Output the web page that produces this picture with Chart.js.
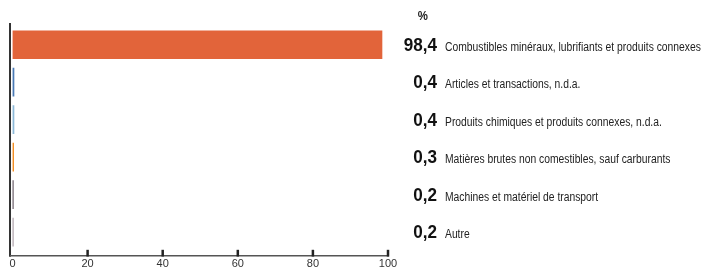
<!DOCTYPE html>
<html>
<head>
<meta charset="utf-8">
<script src="https://cdn.jsdelivr.net/npm/chart.js@4/dist/chart.umd.min.js"></script>
<style>
  html, body { margin: 0; padding: 0; background: #fff; }
  #wrap { width: 702px; height: 270px; position: relative; }
</style>
</head>
<body>
<div id="wrap"><canvas id="tradeChart"></canvas></div>
<script>
// data
var categories = [
    'Combustibles minéraux, lubrifiants et produits connexes',
    'Articles et transactions, n.d.a.',
    'Produits chimiques et produits connexes, n.d.a.',
    'Matières brutes non comestibles, sauf carburants',
    'Machines et matériel de transport',
    'Autre'
];
var shares = [98.4, 0.4, 0.4, 0.3, 0.2, 0.2];
var shareLabels = ['98,4', '0,4', '0,4', '0,3', '0,2', '0,2'];
var barColors = ['#e2643a', '#4a7ab5', '#8db9d8', '#f28a1c', '#4d3f4c', '#9c8f99'];
var xTicks = [0, 20, 40, 60, 80, 100];

var fontFamily = '"Liberation Sans", Arial, sans-serif';

// no narrow font installed, so squeeze the text horizontally
function condensedText(ctx, text, x, y, factor, align) {
    ctx.save();
    ctx.translate(x, y);
    ctx.scale(factor, 1);
    ctx.textAlign = align;
    ctx.fillText(text, 0, 0);
    ctx.restore();
}

// axis lines, inward tick marks and the labels on the right
var decorations = {
    id: 'decorations',
    afterDatasetsDraw: function(chart) {
        var ctx = chart.ctx;
        var xs = chart.scales.x, ys = chart.scales.y;
        var area = chart.chartArea;
        var axisY = area.bottom + 5;
        var axisX = area.left - 2.5;

        ctx.save();
        ctx.strokeStyle = '#333';
        ctx.lineWidth = 2;
        ctx.beginPath();
        ctx.moveTo(axisX, area.top - 3);
        ctx.lineTo(axisX, axisY + 1);
        ctx.stroke();

        ctx.strokeStyle = '#555';
        ctx.lineWidth = 1.5;
        ctx.beginPath();
        ctx.moveTo(axisX, axisY);
        ctx.lineTo(xs.getPixelForValue(100) + 1, axisY);
        ctx.stroke();

        ctx.strokeStyle = '#222';
        ctx.lineWidth = 2.5;
        xTicks.slice(1).forEach(function(t) {
            var px = xs.getPixelForValue(t);
            ctx.beginPath();
            ctx.moveTo(px, axisY - 6);
            ctx.lineTo(px, axisY + 0.75);
            ctx.stroke();
        });

        ctx.fillStyle = '#222';
        ctx.textBaseline = 'alphabetic';
        ctx.font = 'bold 12px ' + fontFamily;
        condensedText(ctx, '%', 428, 20, 0.95, 'right');

        categories.forEach(function(cat, i) {
            var cy = ys.getPixelForValue(i);
            ctx.font = 'bold 18px ' + fontFamily;
            ctx.fillStyle = '#111';
            condensedText(ctx, shareLabels[i], 437, cy + 6, 0.95, 'right');
            ctx.font = '12px ' + fontFamily;
            ctx.fillStyle = '#222';
            condensedText(ctx, cat, 445, cy + 6, 0.86, 'left');
        });
        ctx.restore();
    }
};

var chart = new Chart(document.getElementById('tradeChart').getContext('2d'), {
    type: 'bar',
    data: {
        labels: categories,
        datasets: [{
            data: shares,
            backgroundColor: barColors,
            borderWidth: 0,
            barThickness: 28
        }]
    },
    options: {
        indexAxis: 'y',
        responsive: true,
        maintainAspectRatio: false,
        animation: false,
        layout: {
            padding: { left: 12.5, right: 314, top: 26, bottom: -8 }
        },
        scales: {
            x: {
                min: 0,
                max: 100,
                afterBuildTicks: function(scale) {
                    scale.ticks = xTicks.map(function(v) { return { value: v }; });
                },
                grid: { display: false, drawTicks: false },
                border: { display: false },
                ticks: {
                    padding: 7,
                    color: '#333',
                    font: { family: fontFamily, size: 11 },
                    maxRotation: 0
                }
            },
            y: {
                display: false,
                offset: true,
                grid: { display: false }
            }
        },
        plugins: {
            legend: { display: false },
            tooltip: { enabled: false }
        }
    },
    plugins: [decorations]
});
</script>
</body>
</html>
